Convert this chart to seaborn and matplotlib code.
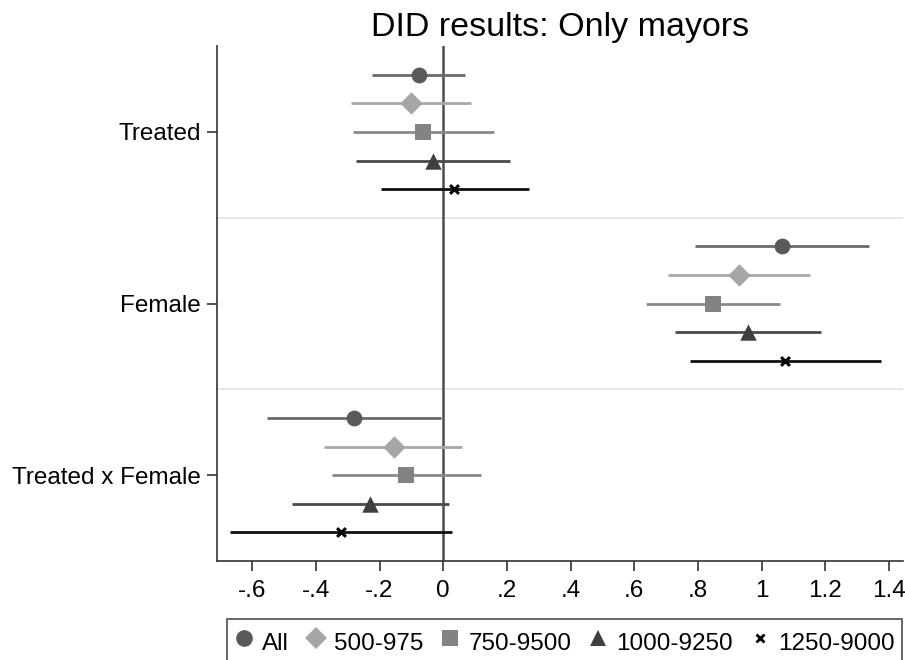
import numpy as np
import pandas as pd
import matplotlib
matplotlib.use("Agg")
import matplotlib.pyplot as plt
import seaborn as sns
from matplotlib.lines import Line2D

sns.set_theme(style="white")
plt.rcParams['font.family'] = ['Liberation Sans', 'DejaVu Sans']
plt.rcParams['text.color'] = 'black'
plt.rcParams['xtick.color'] = 'black'
plt.rcParams['ytick.color'] = 'black'
plt.rcParams['axes.labelcolor'] = 'black'

variables = ["Treated", "Female", "Treated x Female"]
samples = ["All", "500-975", "750-9500", "1000-9250", "1250-9000"]

coef = {
    "All":       [-0.076, 1.064, -0.280],
    "500-975":   [-0.102, 0.930, -0.156],
    "750-9500":  [-0.064, 0.847, -0.118],
    "1000-9250": [-0.032, 0.959, -0.229],
    "1250-9000": [0.035, 1.073, -0.320],
}
ci_low = {
    "All":       [-0.223, 0.790, -0.554],
    "500-975":   [-0.290, 0.707, -0.376],
    "750-9500":  [-0.283, 0.637, -0.350],
    "1000-9250": [-0.274, 0.729, -0.474],
    "1250-9000": [-0.197, 0.774, -0.669],
}
ci_high = {
    "All":       [0.070, 1.338, -0.006],
    "500-975":   [0.086, 1.153, 0.060],
    "750-9500":  [0.159, 1.057, 0.118],
    "1000-9250": [0.210, 1.188, 0.019],
    "1250-9000": [0.270, 1.376, 0.029],
}
xticks = [-0.6, -0.4, -0.2, 0, 0.2, 0.4, 0.6, 0.8, 1.0, 1.2, 1.4]
xticklabels = ["-.6", "-.4", "-.2", "0", ".2", ".4", ".6", ".8", "1", "1.2", "1.4"]

colors = {"All": "#5a5a5a", "500-975": "#a6a6a6", "750-9500": "#838383",
          "1000-9250": "#3f3f3f", "1250-9000": "#000000"}
line_colors = {"All": "#6a6a6a", "500-975": "#a8a8a8", "750-9500": "#8a8a8a",
               "1000-9250": "#4a4a4a", "1250-9000": "#111111"}
markers = {"All": "o", "500-975": "D", "750-9500": "s", "1000-9250": "^", "1250-9000": "x"}
sizes = {"All": 130, "500-975": 130, "750-9500": 120, "1000-9250": 140, "1250-9000": 40}

rows = []
for gi, v in enumerate(variables):
    for si, s in enumerate(samples):
        rows.append(dict(variable=v, sample=s, pos=gi * 6 + si,
                         coef=coef[s][gi], lo=ci_low[s][gi], hi=ci_high[s][gi]))
df = pd.DataFrame(rows)

fig = plt.figure(figsize=(9.05, 6.6), dpi=100)
ax = fig.add_axes([0.24, 0.15, 0.758, 0.78])

for y in [5, 11]:
    ax.axhline(y, color="#e3e3e3", lw=1.2, zorder=0)
ax.axvline(0, color="#4d4d4d", lw=1.8, zorder=1)

for s in samples:
    d = df[df["sample"] == s]
    ax.hlines(d["pos"], d["lo"], d["hi"], color=line_colors[s], lw=2.0, zorder=2)

for s in samples:
    d = df[df["sample"] == s]
    kw = dict(linewidth=2.2) if markers[s] == "x" else dict(linewidth=0)
    sns.scatterplot(data=d, x="coef", y="pos", marker=markers[s], color=colors[s],
                    s=sizes[s], ax=ax, zorder=3, legend=False, **kw)

ax.set_ylim(17, -1)
ax.set_xlim(-0.71, 1.445)
ax.set_yticks([2, 8, 14])
ax.set_yticklabels(variables, fontsize=17.5)
ax.set_xticks(xticks)
ax.set_xticklabels(xticklabels, fontsize=17.5)
ax.set_xlabel("")
ax.set_ylabel("")
ax.tick_params(axis="both", direction="out", length=7.5, width=1.2, color="#333333",
               left=True, bottom=True)
ax.tick_params(axis="y", pad=4)
ax.tick_params(axis="x", pad=6)
for sp in ["top", "right"]:
    ax.spines[sp].set_visible(False)
for sp in ["left", "bottom"]:
    ax.spines[sp].set_color("#333333")
    ax.spines[sp].set_linewidth(1.2)

ax.set_title("DID results: Only mayors", fontsize=24.5, pad=7)

handles = []
for s in samples:
    if markers[s] == "x":
        h = Line2D([], [], marker="x", color=colors[s], linestyle="None", markersize=6, markeredgewidth=2)
    else:
        h = Line2D([], [], marker=markers[s], color=colors[s], linestyle="None",
                   markersize=12 if markers[s] != "D" else 11, markeredgewidth=0)
    handles.append(h)
leg = fig.legend(handles, samples, loc="upper left", bbox_to_anchor=(227 / 905, 1 - 619 / 660),
                 ncol=5, fontsize=17.5, frameon=True, fancybox=False,
                 handletextpad=0.35, columnspacing=0.7, borderpad=0.3,
                 handlelength=0.8, handleheight=1.6, borderaxespad=0)
leg.get_frame().set_edgecolor("#222222")
leg.get_frame().set_linewidth(1.2)

fig.savefig("out.png", dpi=100)
